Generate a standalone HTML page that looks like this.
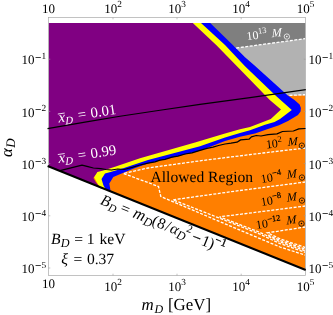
<!DOCTYPE html>
<html><head><meta charset="utf-8">
<style>
html,body{margin:0;padding:0;background:#fff;}
body{width:333px;height:315px;overflow:hidden;font-family:"Liberation Serif",serif;}
svg{display:block;will-change:transform;opacity:0.999;}
text{font-family:"Liberation Serif",serif;text-rendering:geometricPrecision;}
.t{font-size:13px;fill:#000;}
.s{font-size:9.3px;}
.m{stroke:#000;stroke-width:0.3;}
.i{font-style:italic;}
.w{fill:#fff;}
.d{fill:none;stroke:#fff;stroke-width:1.3;stroke-dasharray:3 1.5;}
</style></head><body>
<svg width="333" height="315" viewBox="0 0 333 315">
<rect width="333" height="315" fill="#fff"/>
<defs><clipPath id="c"><rect x="48.5" y="17.5" width="257" height="258"/></clipPath></defs>
<g clip-path="url(#c)">
<!-- orange -->
<polygon points="48.5,166.2 305.5,270 305.5,95.3 200,95.3 90,165" fill="#ff7f00"/>
<!-- light gray -->
<polygon points="200,22.9 305.5,22.9 305.5,95.3 280,95.3" fill="#b2b2b2"/>
<!-- dark gray -->
<polygon points="200,22.9 305.5,22.9 305.5,38.6 236.3,48" fill="#7f7f7f"/>
<!-- blue -->
<polygon points="201,22.9 210.2,22.9 232.8,45 245,57.3 254,65 287.5,95.3 294.5,100 299.6,104.6 300.9,108 300.6,111.5 298,115 288,121 279,125.2 265,130 255,133.6 240,136.8 225,141 200,150.7 148,163.6 135,168 124,172.6 113.3,177 109.3,183.5 110.6,191 100,188 100,170" fill="#0000ff"/>
<!-- yellow -->
<polygon points="192.8,22.9 201,22.9 225,45 245,66.3 275,95 291.8,110 280,119 274.5,122 265,124.8 250,130.3 240,133 225,137.4 200,146.2 148,160 124,168 110.6,172 105,173.5 101.5,179 103.4,185.3 106,190 100,188 94,177" fill="#ffff00"/>
<!-- purple -->
<polygon points="48.5,22.9 192.8,22.9 216.2,45 245,74.5 269.8,100 281,109.4 270.8,118.9 265,121.2 250,127 240,129.3 225,133.5 195,142.4 140,158.3 115,166.8 103.4,170.6 97.4,172 93.4,178 96,182.5 100.7,188 48.5,166.2" fill="#800082"/>
<!-- dashed white -->
<path class="d" d="M236.3,48 L305.5,38.6"/>
<path class="d" d="M289.4,95.4 L305.5,94.6"/>
<path class="d" d="M305.5,148 L263,153 L200,160.8 L148,168 L123.3,173.5 L148,182.5 L158.5,186.6 L160.8,196.5 L215,219.6 L260,238.6 L280,247 L305.5,255.2"/>
<path class="d" d="M305.5,182 L240,190.5 L173,199.8 L215,216.4 L260,234.2 L280,243.6 L305.5,252.4"/>
<path class="d" d="M305.5,206 L240,214.3 L219.5,216.8 L260,232.4 L280,241.8 L305.5,251"/>
<path class="d" d="M305.5,227 L267.5,232.8 L280,238.8 L305.5,247.6"/>
<path class="d" d="M268,235 L280,240.4 L305.5,249.2"/>
</g>
<!-- frame -->
<rect x="48.5" y="17.5" width="257" height="258" fill="none" stroke="#a8a8a8" stroke-width="0.7"/>
<g stroke="#9a9a9a" stroke-width="0.6"><line x1="113" y1="17.5" x2="113" y2="19.3"/><line x1="113" y1="275.5" x2="113" y2="273.7"/><line x1="177" y1="17.5" x2="177" y2="19.3"/><line x1="177" y1="275.5" x2="177" y2="273.7"/><line x1="241.2" y1="17.5" x2="241.2" y2="19.3"/><line x1="241.2" y1="275.5" x2="241.2" y2="273.7"/><line x1="48.5" y1="59.2" x2="50.3" y2="59.2"/><line x1="305.5" y1="59.2" x2="303.7" y2="59.2"/><line x1="48.5" y1="111.4" x2="50.3" y2="111.4"/><line x1="305.5" y1="111.4" x2="303.7" y2="111.4"/><line x1="48.5" y1="163.6" x2="50.3" y2="163.6"/><line x1="305.5" y1="163.6" x2="303.7" y2="163.6"/><line x1="48.5" y1="215.8" x2="50.3" y2="215.8"/><line x1="305.5" y1="215.8" x2="303.7" y2="215.8"/><line x1="48.5" y1="268.0" x2="50.3" y2="268.0"/><line x1="305.5" y1="268.0" x2="303.7" y2="268.0"/></g>
<!-- thin black lines -->
<path d="M47.5,128.6 L85,122.1 L120,116.3 L160,110.2 L200,104.4 L250,97.6 L305.8,89.6" fill="none" stroke="#000" stroke-width="1.15"/>
<path d="M60,170.6 L82,165.2 L88,166.6 L93.4,168 L100.7,168.6 L106,169.5 L111.5,170 L117.8,169 L124,169.5 L133,167.2 L140,165 L148,163.2 L155,161.8 L160,160.2 L165,159.4 L172,157.2 L178,156.2 L185,154 L192,152.8 L200,150.4 L207,148.4 L213,147.2 L218.5,145.5 L225,144 L231,143.2 L237,142.2 L240.6,139.9 L249,139.2 L251.4,136.9 L256.2,135.5 L261,136 L268,134.6 L277,133.9 L282.5,131.5 L293.4,131 L298.8,128.8 L305.5,128.5" fill="none" stroke="#000" stroke-width="1.25" stroke-linejoin="round"/>
<!-- thick black line -->
<line x1="47.6" y1="166" x2="305.7" y2="270" stroke="#000" stroke-width="2"/>

<!-- tick labels top -->
<g class="t" text-anchor="middle">
<text x="48.5" y="12.6">10</text>
<text x="48.5" y="287.5">10</text>
<text x="113" y="12.6">10<tspan class="s" dy="-5.2">2</tspan></text>
<text x="113" y="290.5">10<tspan class="s" dy="-5.2">2</tspan></text>
<text x="177" y="12.6">10<tspan class="s" dy="-5.2">3</tspan></text>
<text x="177" y="290.5">10<tspan class="s" dy="-5.2">3</tspan></text>
<text x="241.2" y="12.6">10<tspan class="s" dy="-5.2">4</tspan></text>
<text x="241.2" y="290.5">10<tspan class="s" dy="-5.2">4</tspan></text>
<text x="305.5" y="12.6">10<tspan class="s" dy="-5.2">5</tspan></text>
<text x="305.5" y="290.5">10<tspan class="s" dy="-5.2">5</tspan></text>
</g>
<g class="t" text-anchor="end">
<text x="46.1" y="64.3">10<tspan class="m" font-size="10.4" dy="-3.8" dx="0.9">−</tspan><tspan class="s" dy="-1.4" dx="0.2">1</tspan></text>
<text x="46.1" y="116.5">10<tspan class="m" font-size="10.4" dy="-3.8" dx="0.9">−</tspan><tspan class="s" dy="-1.4" dx="0.2">2</tspan></text>
<text x="46.1" y="168.7">10<tspan class="m" font-size="10.4" dy="-3.8" dx="0.9">−</tspan><tspan class="s" dy="-1.4" dx="0.2">3</tspan></text>
<text x="46.1" y="220.9">10<tspan class="m" font-size="10.4" dy="-3.8" dx="0.9">−</tspan><tspan class="s" dy="-1.4" dx="0.2">4</tspan></text>
<text x="46.1" y="273.1">10<tspan class="m" font-size="10.4" dy="-3.8" dx="0.9">−</tspan><tspan class="s" dy="-1.4" dx="0.2">5</tspan></text>
</g>
<g class="t">
<text x="308.4" y="64.3">10<tspan class="m" font-size="10.4" dy="-3.8" dx="0.9">−</tspan><tspan class="s" dy="-1.4" dx="0.2">1</tspan></text>
<text x="308.4" y="116.5">10<tspan class="m" font-size="10.4" dy="-3.8" dx="0.9">−</tspan><tspan class="s" dy="-1.4" dx="0.2">2</tspan></text>
<text x="308.4" y="168.7">10<tspan class="m" font-size="10.4" dy="-3.8" dx="0.9">−</tspan><tspan class="s" dy="-1.4" dx="0.2">3</tspan></text>
<text x="308.4" y="220.9">10<tspan class="m" font-size="10.4" dy="-3.8" dx="0.9">−</tspan><tspan class="s" dy="-1.4" dx="0.2">4</tspan></text>
<text x="308.4" y="273.1">10<tspan class="m" font-size="10.4" dy="-3.8" dx="0.9">−</tspan><tspan class="s" dy="-1.4" dx="0.2">5</tspan></text>
</g>
<!-- axis labels -->
<text transform="translate(12.3,157) rotate(-90)" font-size="16.8" class="i">α<tspan font-size="13" dy="2.4" dx="0.4">D</tspan></text>
<text x="141.6" y="309.5" font-size="16.9"><tspan class="i">m</tspan><tspan class="i" font-size="12" dy="3.2" dx="0.6">D</tspan><tspan dy="-3.2" dx="0.6"> [GeV]</tspan></text>
<!-- annotations -->
<g transform="translate(58.8,122.6) rotate(-8.5)"><text transform="skewX(-6)" font-size="14.8" class="w i">x<tspan font-size="10.8" dy="2.8" dx="0.2">D</tspan></text><text x="19.9" font-size="14.8" class="w">= <tspan dx="0.8">0.01</tspan></text><line x1="0.3" y1="-8.6" x2="7.2" y2="-8.6" stroke="#fff" stroke-width="0.8"/></g>
<g transform="translate(58.8,163.1) rotate(-8.5)"><text transform="skewX(-6)" font-size="14.8" class="w i">x<tspan font-size="10.8" dy="2.8" dx="0.2">D</tspan></text><text x="19.9" font-size="14.8" class="w">= <tspan dx="0.8">0.99</tspan></text><line x1="0.3" y1="-8.6" x2="7.2" y2="-8.6" stroke="#fff" stroke-width="0.8"/></g>
<text x="150.5" y="182.4" font-size="15.6">Allowed Region</text>
<text x="51" y="243.6" font-size="15.6"><tspan class="i">B</tspan><tspan class="i" font-size="12.2" dy="3" dx="0.3">D</tspan><tspan dy="-3" dx="0.6"> = 1</tspan><tspan dx="1"> keV</tspan></text>
<text x="61.3" y="264" font-size="15.6"><tspan class="i">ξ</tspan><tspan dx="1.5"> = </tspan><tspan dx="0.8">0.37</tspan></text>
<text transform="translate(99.5,203.8) rotate(22)" font-size="15.6"><tspan class="i">B</tspan><tspan class="i" font-size="11.1" dy="3">D</tspan><tspan dy="-3"> = </tspan><tspan class="i" font-size="16.6" dx="0.9">m</tspan><tspan class="i" font-size="12.2" dy="3" dx="0.2">D</tspan><tspan dy="-3" dx="-0.6">(</tspan><tspan dx="0.3">8</tspan><tspan dx="1">/</tspan><tspan class="i" dx="1">α</tspan><tspan class="i" font-size="12.2" dy="3">D</tspan><tspan font-size="11.1" dy="-10" dx="-1.8">2</tspan><tspan dy="7" dx="2.5" class="m">−</tspan><tspan dx="1.5">1</tspan><tspan dx="-0.3">)</tspan><tspan font-size="11.1" dy="-7" class="m" dx="-0.5">−1</tspan></text>
<g transform="translate(247,40.2) rotate(-7)"><text font-size="12" class="w">10<tspan font-size="8.5" dy="-5">13</tspan></text><text transform="translate(25.0,0) skewX(-7)" font-size="12" class="i w">M</text><circle cx="40.0" cy="1.3" r="2.7" fill="none" stroke="#fff" stroke-width="0.7"/><circle cx="40.0" cy="1.3" r="0.75" fill="#fff"/></g>
<g transform="translate(266.4,148.4) rotate(-6.5)"><text font-size="12">10<tspan font-size="8.5" dy="-5">2</tspan></text><text transform="translate(21.6,0) skewX(-7)" font-size="12" class="i">M</text><circle cx="35.5" cy="1.3" r="2.7" fill="none" stroke="#000" stroke-width="0.7"/><circle cx="35.5" cy="1.3" r="0.75" fill="#000"/></g>
<g transform="translate(261.5,183.0) rotate(-9.5)"><text font-size="12">10<tspan font-size="8.5" dy="-5" style="stroke:#000;stroke-width:0.2">−4</tspan></text><text transform="translate(25.8,0) skewX(-7)" font-size="12" class="i">M</text><circle cx="40.8" cy="1.3" r="2.7" fill="none" stroke="#000" stroke-width="0.7"/><circle cx="40.8" cy="1.3" r="0.75" fill="#000"/></g>
<g transform="translate(261.5,206.0) rotate(-9.5)"><text font-size="12">10<tspan font-size="8.5" dy="-5" style="stroke:#000;stroke-width:0.2">−8</tspan></text><text transform="translate(25.8,0) skewX(-7)" font-size="12" class="i">M</text><circle cx="40.8" cy="1.3" r="2.7" fill="none" stroke="#000" stroke-width="0.7"/><circle cx="40.8" cy="1.3" r="0.75" fill="#000"/></g>
<g transform="translate(256.5,229.0) rotate(-8.5)"><text font-size="12">10<tspan font-size="8.5" dy="-5" style="stroke:#000;stroke-width:0.2">−12</tspan></text><text transform="translate(30.3,0) skewX(-7)" font-size="12" class="i">M</text><circle cx="45.3" cy="1.3" r="2.7" fill="none" stroke="#000" stroke-width="0.7"/><circle cx="45.3" cy="1.3" r="0.75" fill="#000"/></g>
</svg>
</body></html>
